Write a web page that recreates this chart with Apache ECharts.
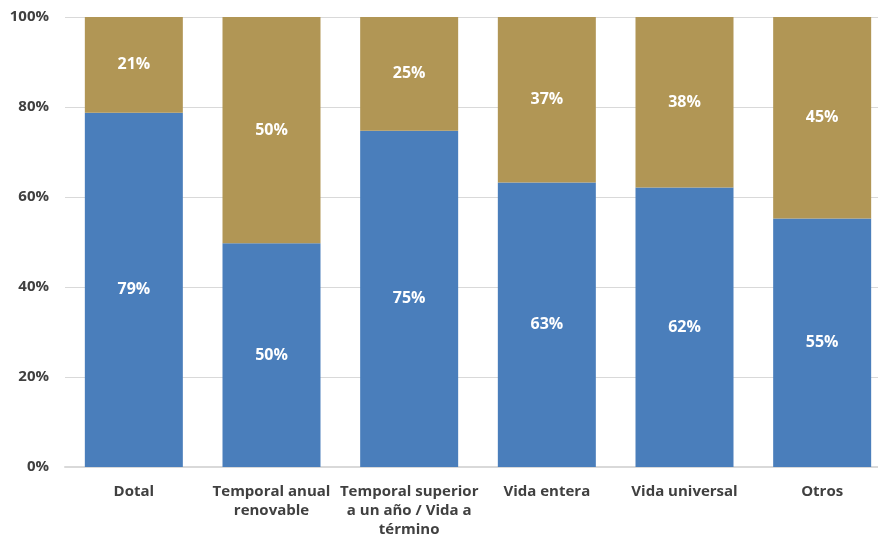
<!DOCTYPE html>
<html>
<head>
<meta charset="utf-8">
<script src="https://cdn.jsdelivr.net/npm/echarts@6/dist/echarts.min.js"></script>
<style>
  html, body { margin: 0; padding: 0; background: #fff; overflow: hidden; }
  #chart { width: 891px; height: 539px; }
</style>
</head>
<body>
<div id="chart"></div>
<script>
var categories = ['Dotal', 'Temporal anual\nrenovable', 'Temporal superior\na un año / Vida a\ntérmino', 'Vida entera', 'Vida universal', 'Otros'];
var blueValues = [78.7, 49.7, 74.7, 63.2, 62.1, 55.2];
var goldValues = [21.3, 50.3, 25.3, 36.8, 37.9, 44.8];
var yTicks = [0, 20, 40, 60, 80, 100];

var fontFam = '"Open Sans", sans-serif';
var chart = echarts.init(document.getElementById('chart'));

function segLabel() {
  return {
    show: true,
    position: 'inside',
    color: '#ffffff',
    fontFamily: fontFam,
    fontWeight: 'bold',
    fontSize: 16,
    formatter: function (p) { return Math.round(p.value) + '%'; }
  };
}

chart.setOption({
  animation: false,
  grid: { left: 65, right: 0, top: 17, bottom: 71, containLabel: false },
  xAxis: {
    type: 'category',
    data: categories,
    axisTick: { show: false },
    axisLine: { lineStyle: { color: '#d9d9d9', width: 2 } },
    axisLabel: {
      interval: 0,
      margin: 15,
      color: '#404040',
      fontFamily: fontFam,
      fontWeight: 'bold',
      fontSize: 15,
      lineHeight: 19
    }
  },
  yAxis: {
    type: 'value',
    min: 0,
    max: 100,
    interval: 20,
    axisLine: { show: false },
    axisTick: { show: false },
    splitLine: { lineStyle: { color: '#d9d9d9', width: 1 } },
    axisLabel: {
      margin: 16,
      color: '#404040',
      fontFamily: fontFam,
      fontWeight: 'bold',
      fontSize: 15,
      formatter: function (v) { return yTicks.indexOf(v) >= 0 ? v + '%' : ''; }
    }
  },
  series: [
    {
      name: 'A',
      type: 'bar',
      stack: 'total',
      barWidth: 98,
      data: blueValues,
      itemStyle: { color: '#4a7ebb' },
      label: segLabel()
    },
    {
      name: 'B',
      type: 'bar',
      stack: 'total',
      barWidth: 98,
      data: goldValues,
      itemStyle: { color: '#b19655' },
      label: segLabel()
    }
  ]
});
</script>
</body>
</html>
